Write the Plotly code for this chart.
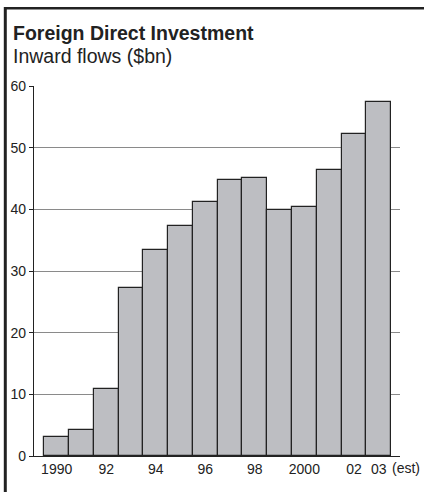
import plotly.graph_objects as go

years = ["1990", "1991", "1992", "1993", "1994", "1995", "1996",
         "1997", "1998", "1999", "2000", "2001", "2002", "2003"]
values = [3.1, 4.2, 10.9, 27.3, 33.4, 37.3, 41.2, 44.8, 45.1, 39.9, 40.3, 46.4, 52.2, 57.4]
tick_positions = [0, 2, 4, 6, 8, 10, 12, 13]
tick_labels = ["1990", "92", "94", "96", "98", "2000", "02", "03"]
y_ticks = [0, 10, 20, 30, 40, 50, 60]

FONT = "Liberation Sans, Arial, Helvetica, sans-serif"
W, H = 424, 492
L, R, T, B = 34, 24, 86, 36
pw, ph = W - L - R, H - T - B

def px(x):
    return (x - L) / pw

def py(y):
    return (H - B - y) / ph

fig = go.Figure(go.Bar(
    x=list(range(len(years))),
    y=values,
    width=1.0,
    marker=dict(color="#bdbec2", line=dict(color="#222222", width=1.2)),
    hovertext=years,
))

fig.update_layout(
    width=W, height=H,
    margin=dict(l=L, r=R, t=T, b=B, pad=0),
    paper_bgcolor="white", plot_bgcolor="white",
    showlegend=False,
    font=dict(family=FONT, color="#222222", size=14),
    bargap=0,
)

fig.update_xaxes(
    range=[-0.915, 13.86],
    tickmode="array", tickvals=tick_positions, ticktext=tick_labels,
    ticks="", showgrid=False, zeroline=False,
    showline=True, linecolor="#222222", linewidth=1.2,
    tickfont=dict(size=14, family=FONT, color="#222222"),
)
fig.update_yaxes(
    range=[0, 60], tickvals=y_ticks,
    ticks="outside", ticklen=4, tickcolor="#222222", tickwidth=1,
    showgrid=True, gridcolor="#8a8a8a", gridwidth=1,
    zeroline=False,
    showline=True, linecolor="#222222", linewidth=1.2,
    tickfont=dict(size=14, family=FONT, color="#222222"),
)

fig.add_annotation(
    x=13, y=0, xref="x", yref="paper", xanchor="left", yanchor="middle",
    text="(est)", showarrow=False, xshift=11, yshift=-12,
    font=dict(size=14, family=FONT, color="#222222"),
)

fig.add_annotation(
    x=px(11), y=py(33), xref="paper", yref="paper", xanchor="left", yanchor="middle",
    text="<b>Foreign Direct Investment</b>", showarrow=False,
    font=dict(size=19.5, family=FONT, color="#222222"),
)
fig.add_annotation(
    x=px(11), y=py(56), xref="paper", yref="paper", xanchor="left", yanchor="middle",
    text="Inward flows ($bn)", showarrow=False,
    font=dict(size=19.5, family=FONT, color="#222222"),
)

# frame: top and left rules
fig.add_shape(type="line", xref="paper", yref="paper",
              x0=px(5.3), x1=px(5.3), y0=py(7), y1=py(H + 5),
              line=dict(color="#222222", width=3))
fig.add_shape(type="line", xref="paper", yref="paper",
              x0=px(4), x1=px(W + 2), y0=py(8.3), y1=py(8.3),
              line=dict(color="#222222", width=2.6))

fig.write_html(
    "out.html",
    config={"displayModeBar": False, "responsive": False},
    post_script="document.body.style.margin='0';"
                "document.body.style.overflow='hidden';"
                "document.documentElement.style.overflow='hidden';",
)
